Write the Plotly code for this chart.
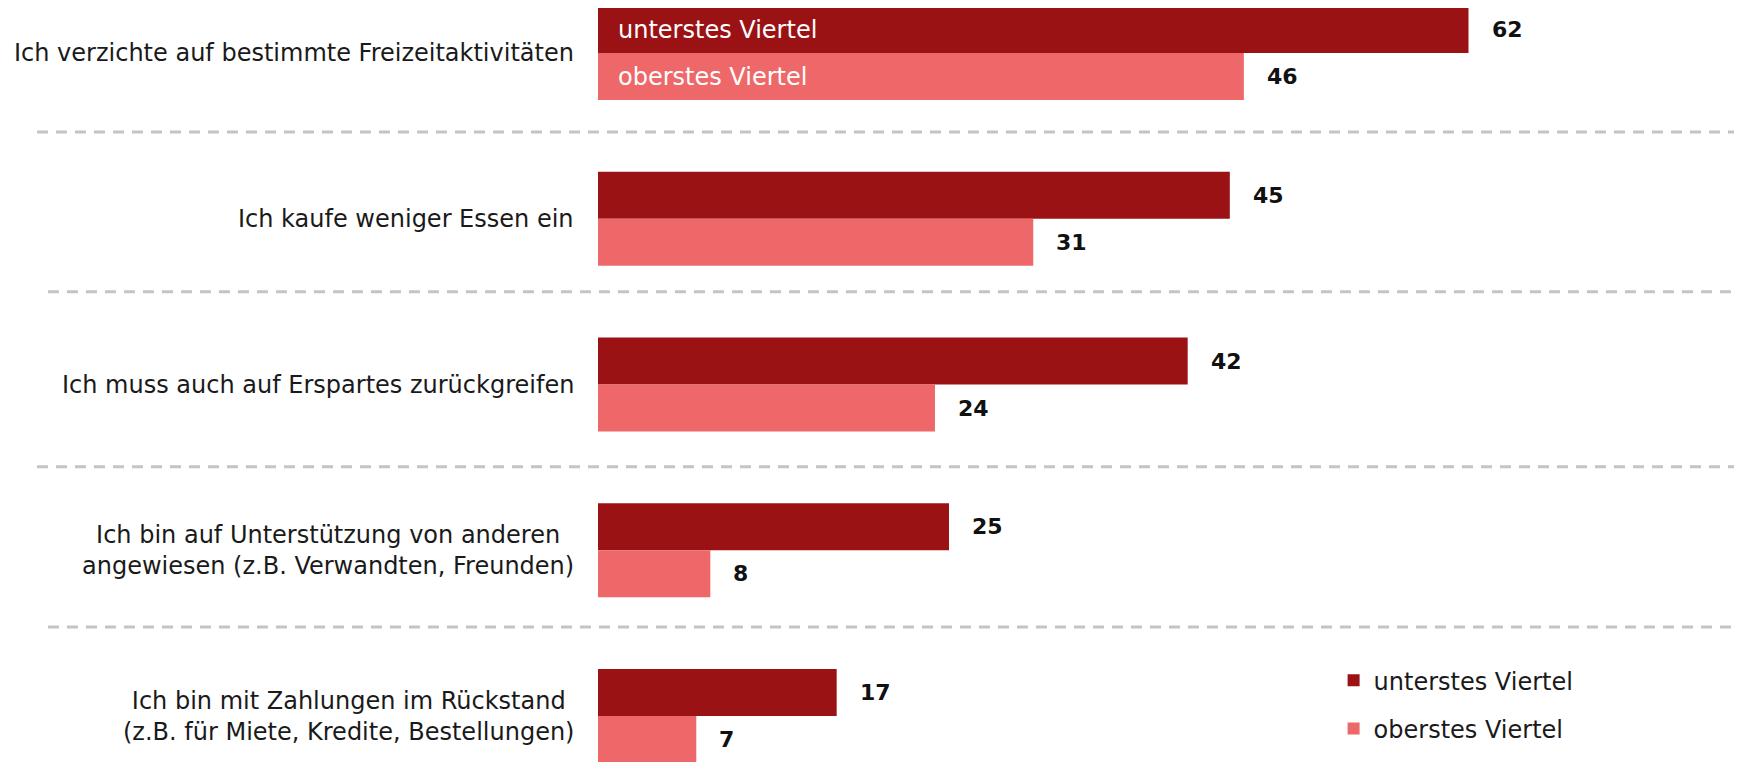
import plotly.graph_objects as go

categories = [
    "Ich verzichte auf bestimmte Freizeitaktivitäten",
    "Ich kaufe weniger Essen ein",
    "Ich muss auch auf Erspartes zurückgreifen",
    "Ich bin auf Unterstützung von anderen<br>angewiesen (z.B. Verwandten, Freunden)",
    "Ich bin mit Zahlungen im Rückstand<br>(z.B. für Miete, Kredite, Bestellungen)",
]
series_names = ["unterstes Viertel", "oberstes Viertel"]
unterstes = [62, 45, 42, 25, 17]
oberstes = [46, 31, 24, 8, 7]

DARK = "#9b1215"
LIGHT = "#ee686a"
FONT = "DejaVu Sans, Open Sans, sans-serif"
FS = 24
FS_VAL = 22

fig = go.Figure()
fig.add_trace(go.Bar(y=categories, x=unterstes, orientation="h", name=series_names[0],
                     marker=dict(color=DARK, line=dict(width=0)), legendgroup="a",
                     hoverinfo="skip"))
fig.add_trace(go.Bar(y=categories, x=oberstes, orientation="h", name=series_names[1],
                     marker=dict(color=LIGHT, line=dict(width=0)), legendgroup="b",
                     hoverinfo="skip"))

annotations = []
# category labels
for c in categories:
    annotations.append(dict(x=0, xref="paper", y=c, yref="y", text=c, showarrow=False,
                            xanchor="right", yanchor="middle", align="center", xshift=-22,
                            font=dict(family=FONT, size=FS, color="#1a1a1a")))
# value labels
for vals, shift in ((unterstes, 23.5), (oberstes, -23.5)):
    for c, v in zip(categories, vals):
        annotations.append(dict(x=v, xref="x", y=c, yref="y", text=f"<b>{v}</b>", showarrow=False,
                                xanchor="left", yanchor="middle", xshift=21, yshift=shift,
                                font=dict(family=FONT, size=FS_VAL, color="#111111")))
# series names inside first pair of bars
for name, shift in zip(series_names, (23.5, -23.5)):
    annotations.append(dict(x=0, xref="x", y=categories[0], yref="y", text=name, showarrow=False,
                            xanchor="left", yanchor="middle", xshift=18, yshift=shift,
                            font=dict(family=FONT, size=FS, color="white")))

# dashed separators between the groups (style positions)
sep_y = [0.4766, 1.440, 2.496, 3.463]
sep_x0 = [-0.4904, -0.4808, -0.4904, -0.4808]
shapes = []
for y, x0 in zip(sep_y, sep_x0):
    shapes.append(dict(type="line", xref="paper", yref="y", x0=x0, x1=1.0,
                       y0=y, y1=y,
                       line=dict(color="#c4c4c4", width=3, dash="11px,8px"), layer="below"))

fig.update_layout(
    width=1734, height=754,
    margin=dict(l=590, r=0, t=0, b=0),
    paper_bgcolor="white", plot_bgcolor="white",
    barmode="group", bargap=0.433, bargroupgap=0,
    xaxis=dict(range=[0, 81.48], visible=False, fixedrange=True),
    yaxis=dict(range=[4.2775, -0.2715], showticklabels=False, showgrid=False,
               zeroline=False, showline=False, ticks="", fixedrange=True),
    showlegend=True,
    legend=dict(x=0.643, y=0.1377, xanchor="left", yanchor="top", traceorder="grouped",
                tracegroupgap=14, font=dict(family=FONT, size=FS, color="#1a1a1a"),
                bgcolor="rgba(0,0,0,0)", itemwidth=30),
    annotations=annotations,
    shapes=shapes,
)

fig.write_html("out.html", config={"displayModeBar": False})
